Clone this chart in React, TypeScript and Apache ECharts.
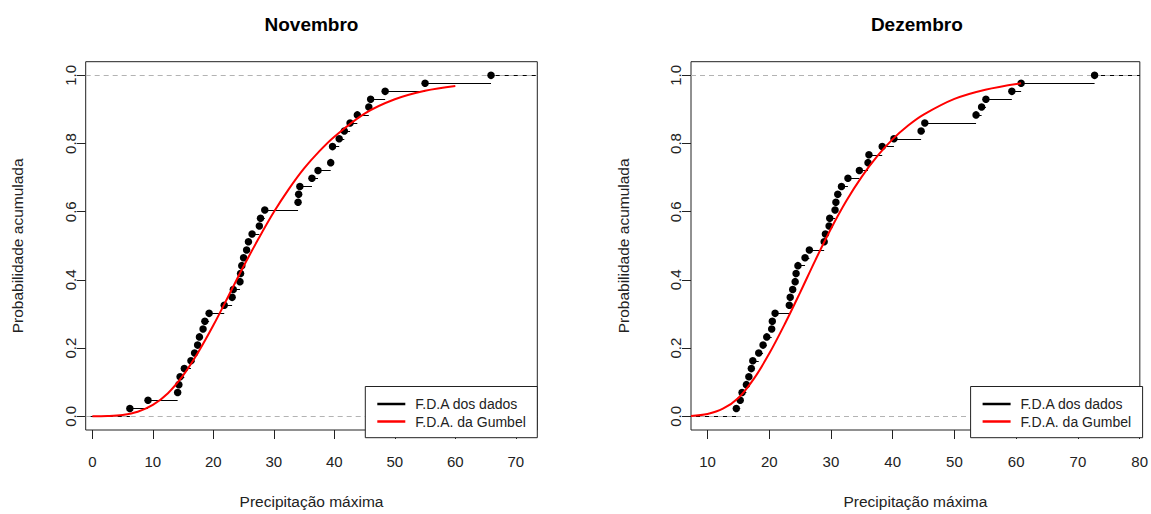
import React, { useEffect, useRef } from "react";
import * as echarts from "echarts";

// ---- Data ----
const novX = [6.2, 9.2, 14.1, 14.3, 14.5, 15.2, 16.3, 16.9, 17.4, 17.7, 18.3, 18.6, 19.3, 21.8, 23.1, 23.3, 24.4, 24.5, 24.7, 25.0, 25.5, 25.8, 26.4, 27.6, 27.8, 28.5, 34.0, 34.1, 34.3, 36.3, 37.3, 39.4, 39.7, 40.8, 41.65, 42.6, 43.8, 45.7, 46.0, 48.4, 55.0, 65.9];
const novP = [0.023, 0.047, 0.070, 0.093, 0.116, 0.140, 0.163, 0.186, 0.209, 0.233, 0.256, 0.279, 0.302, 0.326, 0.349, 0.372, 0.395, 0.419, 0.442, 0.465, 0.488, 0.512, 0.535, 0.558, 0.581, 0.605, 0.628, 0.651, 0.674, 0.698, 0.721, 0.744, 0.791, 0.814, 0.837, 0.860, 0.884, 0.907, 0.930, 0.953, 0.977, 1.0];

const decX = [14.67, 15.3, 15.6, 16.3, 16.7, 17.1, 17.34, 18.3, 19.0, 19.6, 20.4, 20.5, 20.95, 23.25, 23.4, 23.8, 24.2, 24.35, 24.65, 25.8, 26.5, 28.9, 29.1, 29.7, 29.8, 30.66, 30.8, 31.1, 31.7, 32.75, 34.6, 36.0, 36.15, 38.3, 40.2, 44.6, 45.2, 53.5, 54.4, 55.1, 59.3, 60.8, 72.7];
const decP = [0.023, 0.047, 0.070, 0.093, 0.116, 0.140, 0.163, 0.186, 0.209, 0.233, 0.256, 0.279, 0.302, 0.326, 0.349, 0.372, 0.395, 0.419, 0.442, 0.465, 0.488, 0.512, 0.535, 0.558, 0.581, 0.605, 0.628, 0.651, 0.674, 0.698, 0.721, 0.744, 0.767, 0.791, 0.814, 0.837, 0.860, 0.884, 0.907, 0.930, 0.953, 0.977, 1.0];

const novGumbelX = [0, 2.5, 5, 7.5, 10, 12.5, 15, 17.5, 20, 22.5, 25, 27.5, 30, 32.5, 35, 37.5, 40, 45, 50, 55, 60];
const novGumbelP = [0.0002, 0.001, 0.0043, 0.0135, 0.0334, 0.068, 0.120, 0.188, 0.267, 0.353, 0.440, 0.522, 0.599, 0.667, 0.727, 0.777, 0.820, 0.888, 0.930, 0.955, 0.969];

const decGumbelX = [7.33, 10, 12.5, 15, 17.5, 20, 22.5, 25, 27.5, 30, 32.5, 35, 37.5, 40, 42.5, 45, 50, 55, 60.8];
const decGumbelP = [0.0014, 0.0071, 0.0224, 0.054, 0.110, 0.184, 0.270, 0.363, 0.459, 0.550, 0.632, 0.703, 0.763, 0.813, 0.853, 0.885, 0.931, 0.958, 0.977];

const novTicks = [0, 10, 20, 30, 40, 50, 60, 70];
const decTicks = [10, 20, 30, 40, 50, 60, 70, 80];
const yTicks = [0, 0.2, 0.4, 0.6, 0.8, 1.0];

const titles = ["Novembro", "Dezembro"];
const legendNames = ["F.D.A dos dados", "F.D.A. da Gumbel"];
const xName = "Precipitação máxima";
const yName = "Probabilidade acumulada";

const FONT = '"Liberation Sans", Arial, sans-serif';
const INK = "#222";

export default function App() {
  const ref = useRef<HTMLDivElement>(null);

  useEffect(() => {
    if (!ref.current) return;
    const chart = echarts.init(ref.current, null, { renderer: "svg" });

    const panels = [
      { left: 85.7, xmin: -1.1, xmax: 73.55, xs: novX, ps: novP, gx: novGumbelX, gp: novGumbelP, ticks: novTicks },
      { left: 691, xmin: 7.33, xmax: 80.03, xs: decX, ps: decP, gx: decGumbelX, gp: decGumbelP, ticks: decTicks },
    ];
    const top = 61.7;
    const width = 451.6;
    const height = 376;
    const ymin = -0.04;
    const ymax = 1.04;

    const grids: any[] = [];
    const xAxes: any[] = [];
    const yAxes: any[] = [];
    const series: any[] = [];
    const graphics: any[] = [];

    panels.forEach((p, i) => {
      grids.push({
        left: p.left, top, width, height,
        show: true, borderColor: INK, borderWidth: 1, backgroundColor: "transparent",
      });
      xAxes.push({
        type: "value", gridIndex: i, min: p.xmin, max: p.xmax,
        axisLine: { show: false, onZero: false },
        axisTick: { show: true, length: 9, customValues: p.ticks, lineStyle: { color: INK } },
        axisLabel: { customValues: p.ticks, margin: 24, fontSize: 15, color: INK, fontFamily: FONT },
        splitLine: { show: false },
        name: xName, nameLocation: "middle", nameGap: 63,
        nameTextStyle: { fontSize: 15.5, color: INK, fontFamily: FONT },
      });
      yAxes.push({
        type: "value", gridIndex: i, min: ymin, max: ymax,
        axisLine: { show: false, onZero: false },
        axisTick: { show: true, length: 9, customValues: yTicks, lineStyle: { color: INK } },
        axisLabel: {
          customValues: yTicks, margin: 8, rotate: 90, fontSize: 15, color: INK, fontFamily: FONT,
          formatter: (v: number) => v.toFixed(1),
        },
        splitLine: { show: false },
        name: yName, nameLocation: "middle", nameGap: 60, nameRotate: 90,
        nameTextStyle: { fontSize: 15.5, color: INK, fontFamily: FONT },
      });

      // ECDF horizontal steps
      const segs: any[] = [{ coords: [[p.xmin, 0], [p.xs[0], 0]] }];
      for (let k = 0; k < p.xs.length; k++) {
        const xEnd = k < p.xs.length - 1 ? p.xs[k + 1] : p.xmax;
        segs.push({ coords: [[p.xs[k], p.ps[k]], [xEnd, p.ps[k]]] });
      }
      series.push({
        type: "lines", coordinateSystem: "cartesian2d", xAxisIndex: i, yAxisIndex: i,
        data: segs, silent: true, z: 2,
        lineStyle: { color: "#000", width: 1, opacity: 1 },
      });
      // dashed 0 and 1 reference lines
      series.push({
        type: "lines", coordinateSystem: "cartesian2d", xAxisIndex: i, yAxisIndex: i,
        data: [
          { coords: [[p.xmin, 0], [p.xmax, 0]] },
          { coords: [[p.xmin, 1], [p.xmax, 1]] },
        ],
        silent: true, z: 3,
        lineStyle: { color: "#b3b3b3", width: 1, type: [5, 4], opacity: 1 },
      });
      // points
      series.push({
        type: "scatter", name: legendNames[0], xAxisIndex: i, yAxisIndex: i,
        data: p.xs.map((x, k) => [x, p.ps[k]]),
        symbol: "circle", symbolSize: 7.5, itemStyle: { color: "#000", opacity: 1 }, z: 4, silent: true,
      });
      // Gumbel curve
      series.push({
        type: "line", name: legendNames[1], xAxisIndex: i, yAxisIndex: i,
        data: p.gx.map((x, k) => [x, p.gp[k]]),
        showSymbol: false, smooth: 0.35, clip: true, z: 5, silent: true,
        lineStyle: { color: "#ff0000", width: 2 },
      });

      // title
      graphics.push({
        type: "text", x: p.left + width / 2, y: 24, z: 100,
        style: { text: titles[i], font: `bold 19px ${FONT}`, fill: "#000", textAlign: "center", textVerticalAlign: "middle" },
      });
      // legend
      const lx = p.left + width - 172;
      const ly = 386.5;
      graphics.push({
        type: "rect", z: 100,
        shape: { x: lx, y: ly, width: 172, height: top + height - ly },
        style: { fill: "#fff", stroke: INK, lineWidth: 1 },
      });
      graphics.push({
        type: "line", z: 101,
        shape: { x1: lx + 12, y1: ly + 17.5, x2: lx + 40, y2: ly + 17.5 },
        style: { stroke: "#000", lineWidth: 2.5 },
      });
      graphics.push({
        type: "line", z: 101,
        shape: { x1: lx + 12, y1: ly + 35, x2: lx + 40, y2: ly + 35 },
        style: { stroke: "#ff0000", lineWidth: 2.5 },
      });
      graphics.push({
        type: "text", x: lx + 50, y: ly + 17.5, z: 101,
        style: { text: legendNames[0], font: `14px ${FONT}`, fill: INK, textVerticalAlign: "middle" },
      });
      graphics.push({
        type: "text", x: lx + 50, y: ly + 35, z: 101,
        style: { text: legendNames[1], font: `14px ${FONT}`, fill: INK, textVerticalAlign: "middle" },
      });
    });

    chart.setOption({
      animation: false,
      backgroundColor: "#fff",
      textStyle: { fontFamily: FONT },
      grid: grids,
      xAxis: xAxes,
      yAxis: yAxes,
      series,
      graphic: graphics,
    });

    return () => chart.dispose();
  }, []);

  return (
    <div
      ref={ref}
      style={{ position: "absolute", left: 0, top: 0, width: 1151, height: 514, background: "#fff" }}
    />
  );
}
